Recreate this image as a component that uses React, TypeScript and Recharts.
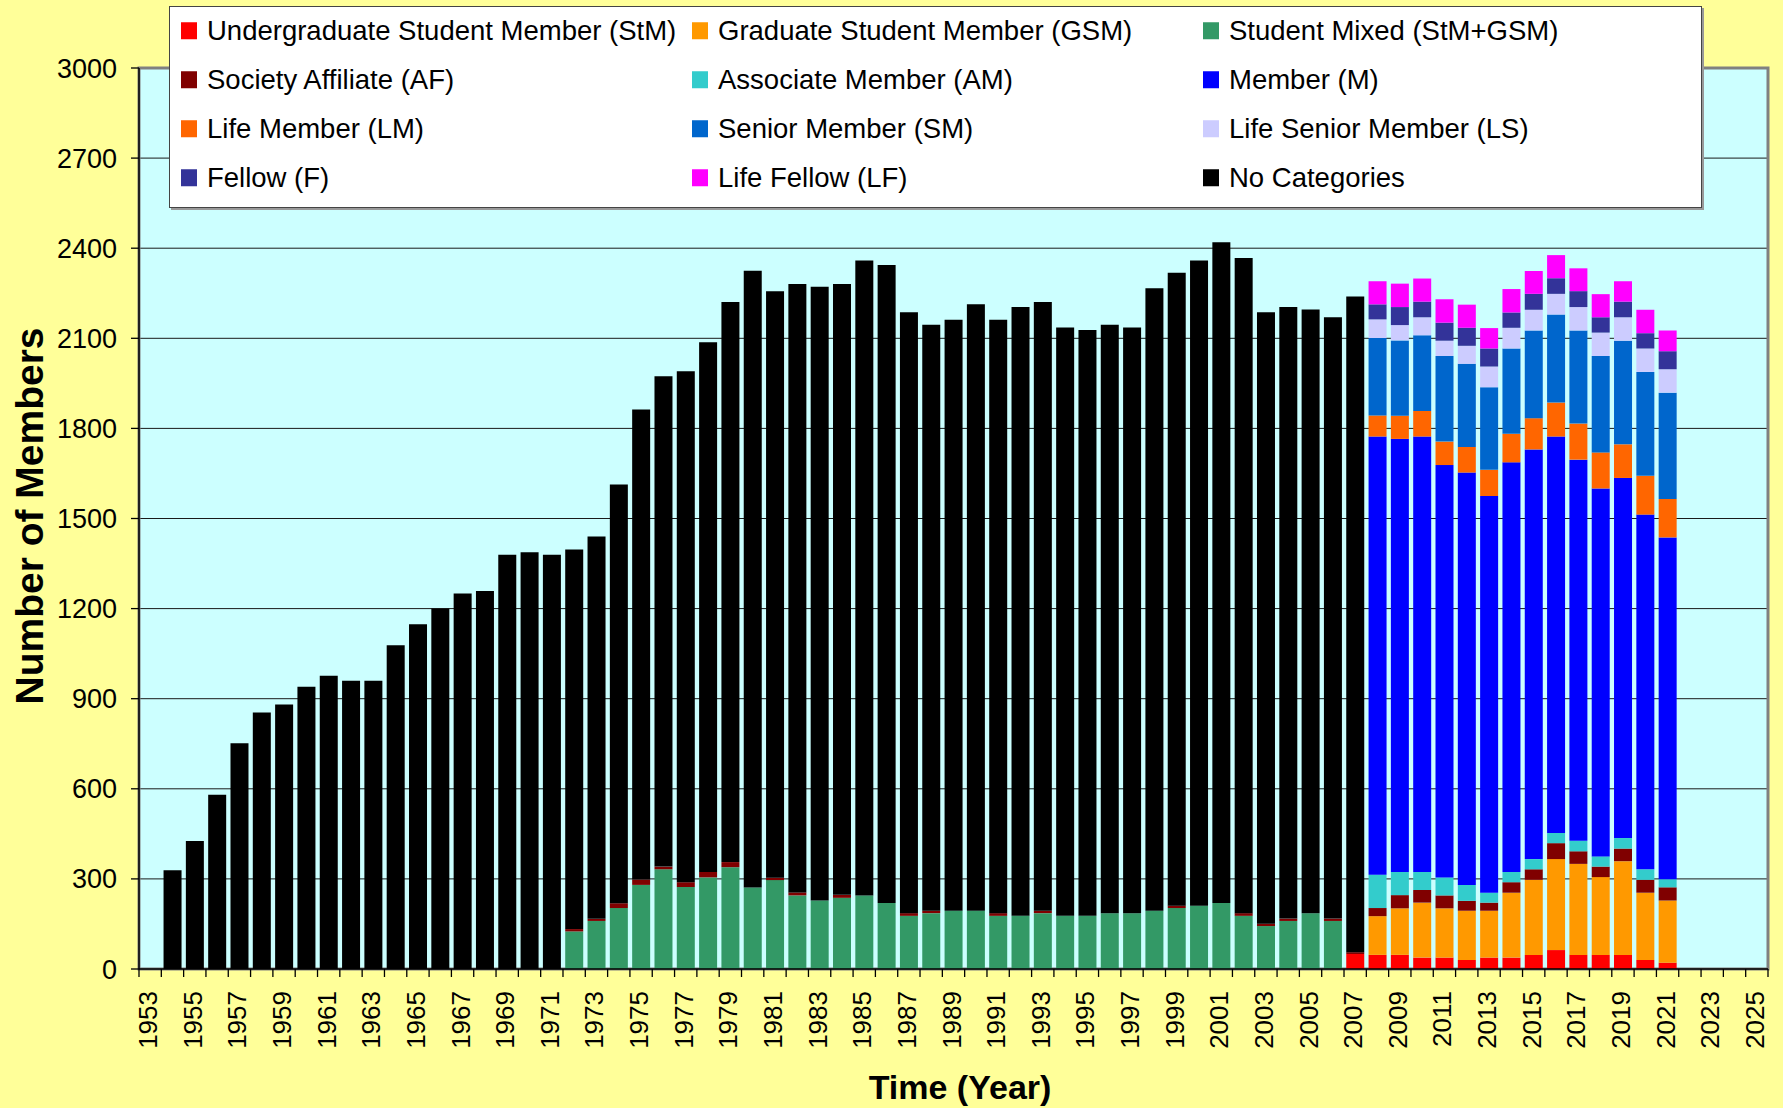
import React from 'react';
import { BarChart, Bar, XAxis, YAxis, CartesianGrid, Legend, ReferenceArea } from 'recharts';

const FONT = '"Liberation Sans", Arial, Helvetica, sans-serif';

// Categories (x axis)
const years = [
  '1953', '1954', '1955', '1956', '1957', '1958', '1959', '1960', '1961', '1962',
  '1963', '1964', '1965', '1966', '1967', '1968', '1969', '1970', '1971', '1972',
  '1973', '1974', '1975', '1976', '1977', '1978', '1979', '1980', '1981', '1982',
  '1983', '1984', '1985', '1986', '1987', '1988', '1989', '1990', '1991', '1992',
  '1993', '1994', '1995', '1996', '1997', '1998', '1999', '2000', '2001', '2002',
  '2003', '2004', '2005', '2006', '2007', '2008', '2009', '2010', '2011', '2012',
  '2013', '2014', '2015', '2016', '2017', '2018', '2019', '2020', '2021', '2022',
  '2023', '2024', '2025',
];

const yTicks = [0, 300, 600, 900, 1200, 1500, 1800, 2100, 2400, 2700, 3000];

// No Categories: 1953 .. 2007
const noCategories = [
  0, 329, 426, 580, 752, 854, 881, 940, 976, 960,
  960, 1078, 1148, 1200, 1250, 1259, 1379, 1388, 1379, 1264,
  1273, 1394, 1565, 1633, 1701, 1764, 1865, 2054, 1953, 2026,
  2044, 2034, 2114, 2124, 2001, 1951, 1968, 2019, 1976, 2027,
  2027, 1959, 1951, 1959, 1950, 2073, 2107, 2148, 2200, 2181,
  2036, 2036, 2010, 2002, 2183,
];

// Student Mixed (StM+GSM): 1972 .. 2006
const studentMixed = [
  125, 160, 203, 280, 332, 273, 305, 339, 271, 296,
  245, 228, 237, 245, 220, 177, 186, 194, 194, 177,
  177, 186, 177, 177, 186, 186, 194, 203, 211, 220,
  177, 143, 160, 186, 160,
];

// Society Affiliate (AF): 1972 .. 2021
const societyAffiliate = [
  8, 7, 16, 18, 9, 16, 18, 17, 0, 8,
  10, 0, 10, 0, 0, 9, 8, 0, 0, 9,
  0, 8, 0, 0, 0, 0, 0, 8, 0, 0,
  9, 8, 8, 0, 8, 6, 27, 44, 42, 43,
  33, 27, 35, 35, 53, 42, 35, 42, 43, 44,
];

// Undergraduate Student Member (StM): 2007 .. 2021
const undergraduate = [50, 47, 47, 38, 38, 30, 38, 38, 47, 63, 47, 47, 47, 30, 21];

// 2008 .. 2021
const graduate = [129, 155, 183, 164, 164, 156, 216, 250, 303, 303, 259, 312, 224, 207];
const associate = [111, 77, 60, 60, 53, 33, 34, 34, 34, 35, 34, 35, 35, 27];
const member = [1459, 1442, 1450, 1373, 1373, 1321, 1364, 1364, 1320, 1269, 1225, 1199, 1181, 1138];
const lifeMember = [70, 77, 85, 78, 85, 87, 95, 104, 113, 120, 120, 112, 129, 128];
const seniorMember = [258, 251, 252, 285, 277, 275, 284, 292, 293, 310, 321, 345, 346, 354];
const lifeSenior = [62, 51, 60, 51, 60, 69, 69, 69, 69, 78, 78, 78, 78, 78];
const fellow = [50, 60, 52, 60, 60, 60, 51, 53, 52, 53, 51, 52, 51, 60];
const lifeFellow = [77, 78, 77, 78, 77, 68, 78, 76, 77, 76, 77, 68, 78, 69];

type Series = { key: string; name: string; color: string; start: number; values: number[] };

const series: Series[] = [
  { key: 'StM', name: 'Undergraduate Student Member (StM)', color: '#FF0000', start: 2007, values: undergraduate },
  { key: 'GSM', name: 'Graduate Student Member (GSM)', color: '#FF9900', start: 2008, values: graduate },
  { key: 'Mixed', name: 'Student Mixed (StM+GSM)', color: '#339966', start: 1972, values: studentMixed },
  { key: 'AF', name: 'Society Affiliate (AF)', color: '#800000', start: 1972, values: societyAffiliate },
  { key: 'AM', name: 'Associate Member (AM)', color: '#33CCCC', start: 2008, values: associate },
  { key: 'M', name: 'Member (M)', color: '#0000FF', start: 2008, values: member },
  { key: 'LM', name: 'Life Member (LM)', color: '#FF6600', start: 2008, values: lifeMember },
  { key: 'SM', name: 'Senior Member (SM)', color: '#0066CC', start: 2008, values: seniorMember },
  { key: 'LS', name: 'Life Senior Member (LS)', color: '#CCCCFF', start: 2008, values: lifeSenior },
  { key: 'F', name: 'Fellow (F)', color: '#333399', start: 2008, values: fellow },
  { key: 'LF', name: 'Life Fellow (LF)', color: '#FF00FF', start: 2008, values: lifeFellow },
  { key: 'NC', name: 'No Categories', color: '#000000', start: 1953, values: noCategories },
];

const data = years.map((y) => {
  const row: Record<string, any> = { year: y };
  series.forEach((s) => {
    const i = Number(y) - s.start;
    if (i >= 0 && i < s.values.length) row[s.key] = s.values[i];
  });
  return row;
});

const WIDTH = 1783;
const HEIGHT = 1108;
const PLOT_LEFT = 139;
const PLOT_RIGHT = 1768;
const PLOT_TOP = 68;
const PLOT_BOTTOM = 969;
const BAND = (PLOT_RIGHT - PLOT_LEFT) / years.length;

function XTick(props: any) {
  const { x, y, payload, index } = props;
  const axisY = y - 8;
  const left = x - BAND / 2;
  const lx = x - 2;
  const ly = y + 14;
  return (
    <g>
      <line x1={left} x2={left} y1={axisY} y2={axisY + 8} stroke="#000" strokeWidth={1.3} />
      {index === years.length - 1 && (
        <line x1={x + BAND / 2} x2={x + BAND / 2} y1={axisY} y2={axisY + 8} stroke="#000" strokeWidth={1.3} />
      )}
      {index % 2 === 0 && (
        <text
          x={lx}
          y={ly}
          transform={`rotate(-90 ${lx} ${ly})`}
          textAnchor="end"
          dominantBaseline="central"
          fontSize={26}
          fontFamily={FONT}
          fill="#000"
        >
          {payload.value}
        </text>
      )}
    </g>
  );
}

const LegendBox = () => (
  <div
    style={{
      width: '100%',
      height: '100%',
      boxSizing: 'border-box',
      background: '#FFFFFF',
      border: '1px solid #444',
      boxShadow: '2px 2px 0 #999',
      position: 'relative',
      fontFamily: FONT,
      fontSize: 27.5,
      color: '#000',
    }}
  >
    {series.map((s, i) => {
      const col = i % 3;
      const row = Math.floor(i / 3);
      return (
        <div
          key={s.key}
          style={{
            position: 'absolute',
            left: 11 + col * 511,
            top: 24 + row * 49,
            transform: 'translateY(-50%)',
            display: 'flex',
            alignItems: 'center',
            whiteSpace: 'pre',
            lineHeight: 1,
          }}
        >
          <span style={{ display: 'inline-block', width: 16, height: 17, background: s.color, marginRight: 10 }} />
          <span>{s.name}</span>
        </div>
      );
    })}
  </div>
);

export default function App() {
  return (
    <div
      style={{
        position: 'absolute',
        left: 0,
        top: 0,
        width: WIDTH,
        height: HEIGHT,
        background: '#FFFF99',
        fontFamily: FONT,
      }}
    >
      <BarChart
        width={WIDTH}
        height={HEIGHT}
        data={data}
        margin={{ top: PLOT_TOP, right: WIDTH - PLOT_RIGHT, bottom: 0, left: 0 }}
        barCategoryGap="10%"
      >
        <CartesianGrid vertical={false} stroke="#1a1a1a" strokeWidth={1} fill="#CCFFFF" />
        <ReferenceArea
          x1="1953"
          x2="2025"
          y1={0}
          y2={3000}
          fill="none"
          stroke="#808080"
          strokeWidth={3}
          ifOverflow="visible"
        />
        <XAxis
          dataKey="year"
          interval={0}
          height={HEIGHT - PLOT_BOTTOM}
          tickSize={8}
          tickMargin={0}
          tickLine={false}
          tick={<XTick />}
          axisLine={{ stroke: '#000', strokeWidth: 1.5 }}
          label={{
            content: () => (
              <text
                x={960}
                y={1099}
                textAnchor="middle"
                fontSize={34}
                fontWeight="bold"
                fontFamily={FONT}
                fill="#000"
              >
                Time (Year)
              </text>
            ),
          }}
        />
        <YAxis
          domain={[0, 3000]}
          ticks={yTicks}
          interval={0}
          width={PLOT_LEFT}
          tickSize={8}
          tickMargin={14}
          tickLine={{ stroke: '#000', strokeWidth: 1.3 }}
          axisLine={{ stroke: '#000', strokeWidth: 1.5 }}
          tick={{ fontSize: 27, fill: '#000', fontFamily: FONT }}
          label={{
            content: () => (
              <text
                x={43}
                y={516}
                transform="rotate(-90 43 516)"
                textAnchor="middle"
                fontSize={39}
                fontWeight="bold"
                fontFamily={FONT}
                fill="#000"
              >
                Number of Members
              </text>
            ),
          }}
        />
        <Legend
          layout="horizontal"
          verticalAlign="middle"
          align="center"
          content={() => <LegendBox />}
          wrapperStyle={{ left: 169, top: 6, width: 1533, height: 202 }}
        />
        {series.map((s) => (
          <Bar
            key={s.key}
            dataKey={s.key}
            name={s.name}
            stackId="members"
            fill={s.color}
            isAnimationActive={false}
          />
        ))}
      </BarChart>
    </div>
  );
}
